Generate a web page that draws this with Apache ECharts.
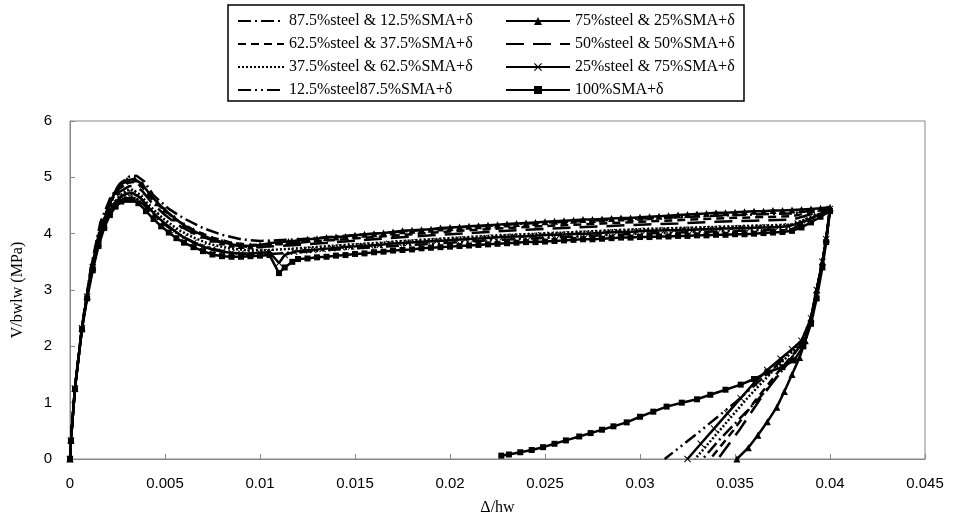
<!DOCTYPE html>
<html>
<head>
<meta charset="utf-8">
<script src="https://cdn.jsdelivr.net/npm/echarts@6/dist/echarts.min.js"></script>
<style>
html,body{margin:0;padding:0;background:#fff;}
#chart{width:955px;height:521px;}
</style>
</head>
<body>
<div id="chart"></div>
<script>
// ---- tick settings ----
const xTicks = { min: 0, max: 0.045, interval: 0.005 };
const yTicks = { min: 0, max: 6, interval: 1 };

// ---- series names ----
const names = [
  '87.5%steel & 12.5%SMA+δ',
  '75%steel & 25%SMA+δ',
  '62.5%steel & 37.5%SMA+δ',
  '50%steel & 50%SMA+δ',
  '37.5%steel & 62.5%SMA+δ',
  '25%steel & 75%SMA+δ',
  '12.5%steel87.5%SMA+δ',
  '100%SMA+δ'
];

// ---- data: [Δ/hw, V/bwlw] ----
const s875 = [[0,0],[0.00005,0.35],[0.00026,1.27],[0.00063,2.35],[0.0011,3.4],[0.0016,4.2],[0.0021,4.62],[0.0026,4.88],[0.0031,5.01],[0.0035,5.03],[0.0039,4.93],[0.0044,4.68],[0.0052,4.44],[0.006,4.27],[0.007,4.1],[0.008,3.98],[0.009,3.9],[0.01,3.87],[0.012,3.9],[0.014,3.95],[0.016,4.0],[0.018,4.05],[0.02,4.1],[0.022,4.14],[0.024,4.18],[0.026,4.21],[0.028,4.24],[0.03,4.27],[0.032,4.29],[0.034,4.32],[0.036,4.34],[0.038,4.36],[0.04,4.46],[0.0398,3.9],[0.0396,3.5],[0.0393,3.0],[0.039,2.5],[0.0386,2.1],[0.0379,1.75],[0.0372,1.45],[0.0362,1.05],[0.0352,0.7],[0.0342,0.35],[0.0333,0]];

const s75 = [[0,0],[0.00005,0.34],[0.00026,1.26],[0.00063,2.33],[0.0009,2.9],[0.0012,3.45],[0.0015,3.9],[0.0018,4.25],[0.0021,4.55],[0.0024,4.75],[0.0027,4.88],[0.003,4.95],[0.0034,4.97],[0.0038,4.88],[0.0042,4.7],[0.0046,4.55],[0.005,4.42],[0.0055,4.28],[0.006,4.15],[0.0065,4.05],[0.007,3.97],[0.0075,3.9],[0.008,3.85],[0.0085,3.81],[0.009,3.79],[0.0095,3.78],[0.01,3.8],[0.0105,3.83],[0.011,3.85],[0.0115,3.86],[0.012,3.88],[0.0125,3.9],[0.013,3.91],[0.0135,3.93],[0.014,3.94],[0.0145,3.95],[0.015,3.97],[0.0155,3.99],[0.016,4.0],[0.0165,4.01],[0.017,4.03],[0.0175,4.05],[0.018,4.06],[0.0185,4.07],[0.019,4.08],[0.0195,4.1],[0.02,4.11],[0.0205,4.12],[0.021,4.13],[0.0215,4.14],[0.022,4.15],[0.0225,4.16],[0.023,4.17],[0.0235,4.18],[0.024,4.19],[0.0245,4.2],[0.025,4.21],[0.0255,4.22],[0.026,4.23],[0.0265,4.24],[0.027,4.25],[0.0275,4.25],[0.028,4.26],[0.0285,4.27],[0.029,4.28],[0.0295,4.28],[0.03,4.29],[0.0305,4.3],[0.031,4.31],[0.0315,4.32],[0.032,4.33],[0.0325,4.34],[0.033,4.35],[0.0335,4.36],[0.034,4.37],[0.0345,4.37],[0.035,4.38],[0.0355,4.39],[0.036,4.4],[0.0365,4.4],[0.037,4.41],[0.0375,4.41],[0.038,4.42],[0.0385,4.43],[0.039,4.44],[0.0395,4.45],[0.04,4.47],[0.0398,3.92],[0.0396,3.5],[0.0393,3.0],[0.039,2.5],[0.0387,2.1],[0.0384,1.8],[0.038,1.5],[0.0376,1.2],[0.0372,0.92],[0.0367,0.66],[0.0362,0.42],[0.0357,0.2],[0.0351,0]];

const s625 = [[0,0],[0.00005,0.34],[0.00026,1.26],[0.00063,2.34],[0.0011,3.38],[0.0016,4.12],[0.0021,4.55],[0.0026,4.8],[0.0031,4.91],[0.0034,4.92],[0.0038,4.83],[0.0043,4.62],[0.005,4.4],[0.0058,4.2],[0.0066,4.05],[0.0075,3.93],[0.0085,3.84],[0.0095,3.8],[0.0105,3.81],[0.012,3.84],[0.014,3.89],[0.016,3.94],[0.018,3.99],[0.02,4.04],[0.022,4.08],[0.024,4.12],[0.026,4.15],[0.028,4.18],[0.03,4.21],[0.032,4.24],[0.034,4.27],[0.036,4.29],[0.038,4.31],[0.04,4.45],[0.0398,3.9],[0.0396,3.5],[0.0393,3.0],[0.039,2.5],[0.0387,2.1],[0.0374,1.6],[0.0361,1.05],[0.0349,0.5],[0.0337,0]];

const s50 = [[0,0],[0.00005,0.34],[0.00026,1.26],[0.00063,2.33],[0.0011,3.36],[0.0016,4.08],[0.0021,4.5],[0.0026,4.74],[0.0031,4.84],[0.0034,4.85],[0.0038,4.76],[0.0043,4.55],[0.005,4.33],[0.0058,4.13],[0.0066,3.99],[0.0075,3.88],[0.0085,3.8],[0.0095,3.76],[0.0105,3.77],[0.012,3.8],[0.014,3.85],[0.016,3.9],[0.018,3.95],[0.02,3.99],[0.022,4.03],[0.024,4.07],[0.026,4.1],[0.028,4.13],[0.03,4.16],[0.032,4.18],[0.034,4.21],[0.036,4.23],[0.038,4.25],[0.04,4.44],[0.0398,3.9],[0.0396,3.5],[0.0393,3.0],[0.039,2.5],[0.0387,2.1],[0.0375,1.6],[0.0363,1.05],[0.0352,0.5],[0.0341,0]];

const s375 = [[0,0],[0.00005,0.33],[0.00026,1.25],[0.00063,2.33],[0.0011,3.34],[0.0016,4.03],[0.0021,4.44],[0.0026,4.67],[0.003,4.77],[0.0033,4.78],[0.0037,4.69],[0.0042,4.49],[0.0049,4.27],[0.0057,4.07],[0.0065,3.93],[0.0074,3.81],[0.0084,3.74],[0.0094,3.7],[0.0105,3.71],[0.012,3.74],[0.014,3.79],[0.016,3.83],[0.018,3.88],[0.02,3.92],[0.022,3.96],[0.024,3.99],[0.026,4.02],[0.028,4.05],[0.03,4.08],[0.032,4.1],[0.034,4.12],[0.036,4.14],[0.038,4.16],[0.04,4.43],[0.0398,3.9],[0.0396,3.5],[0.0393,3.0],[0.039,2.5],[0.0386,2.1],[0.0371,1.6],[0.0357,1.1],[0.0343,0.55],[0.0329,0]];

const s25 = [[0,0],[0.00005,0.33],[0.00026,1.25],[0.00063,2.32],[0.0009,2.88],[0.0012,3.4],[0.0015,3.83],[0.0018,4.15],[0.0021,4.4],[0.0024,4.56],[0.0027,4.66],[0.003,4.71],[0.0033,4.72],[0.0037,4.64],[0.0041,4.48],[0.0045,4.33],[0.005,4.18],[0.0055,4.05],[0.006,3.93],[0.0065,3.84],[0.007,3.77],[0.0075,3.72],[0.008,3.68],[0.0085,3.66],[0.009,3.65],[0.0095,3.65],[0.01,3.66],[0.0105,3.67],[0.011,3.48],[0.0113,3.62],[0.0118,3.68],[0.0123,3.7],[0.0128,3.71],[0.0133,3.73],[0.0138,3.74],[0.0143,3.76],[0.0148,3.77],[0.0153,3.78],[0.0158,3.79],[0.0163,3.8],[0.0168,3.82],[0.0173,3.83],[0.0178,3.84],[0.0183,3.85],[0.0188,3.86],[0.0193,3.87],[0.0198,3.88],[0.0203,3.89],[0.0208,3.9],[0.0213,3.91],[0.0218,3.92],[0.0223,3.93],[0.0228,3.94],[0.0233,3.95],[0.0238,3.95],[0.0243,3.96],[0.0248,3.97],[0.0253,3.98],[0.0258,3.98],[0.0263,3.99],[0.0268,4.0],[0.0273,4.0],[0.0278,4.01],[0.0283,4.02],[0.0288,4.03],[0.0293,4.03],[0.0298,4.04],[0.0303,4.05],[0.0308,4.05],[0.0313,4.06],[0.0318,4.06],[0.0323,4.07],[0.0328,4.07],[0.0333,4.08],[0.0338,4.08],[0.0343,4.09],[0.0348,4.09],[0.0353,4.1],[0.0358,4.1],[0.0363,4.11],[0.0368,4.11],[0.0373,4.12],[0.0378,4.13],[0.0383,4.18],[0.0388,4.24],[0.0393,4.32],[0.0398,4.4],[0.04,4.44],[0.0398,3.9],[0.0396,3.5],[0.0393,3.0],[0.039,2.5],[0.0385,2.1],[0.038,1.95],[0.0374,1.78],[0.0367,1.58],[0.036,1.35],[0.0353,1.08],[0.0346,0.81],[0.0339,0.54],[0.0332,0.27],[0.0325,0]];

const s125 = [[0,0],[0.00005,0.33],[0.00026,1.25],[0.00063,2.32],[0.0011,3.32],[0.0016,3.98],[0.0021,4.37],[0.0026,4.57],[0.003,4.65],[0.0033,4.66],[0.0037,4.58],[0.0042,4.39],[0.0049,4.18],[0.0057,3.99],[0.0065,3.85],[0.0074,3.74],[0.0084,3.66],[0.0094,3.63],[0.0105,3.64],[0.012,3.67],[0.014,3.72],[0.016,3.76],[0.018,3.8],[0.02,3.84],[0.022,3.88],[0.024,3.91],[0.026,3.94],[0.028,3.97],[0.03,4.0],[0.032,4.02],[0.034,4.04],[0.036,4.06],[0.038,4.08],[0.04,4.42],[0.0398,3.9],[0.0396,3.5],[0.0393,3.0],[0.039,2.5],[0.0385,2.1],[0.037,1.6],[0.035,1.0],[0.033,0.45],[0.0313,0]];

const s100 = [[0,0],[0.00005,0.32],[0.00026,1.24],[0.00063,2.3],[0.0009,2.85],[0.0012,3.35],[0.0015,3.78],[0.0018,4.1],[0.0021,4.33],[0.0024,4.48],[0.0027,4.57],[0.003,4.6],[0.0033,4.6],[0.0036,4.54],[0.004,4.4],[0.0044,4.26],[0.0048,4.13],[0.0052,4.02],[0.0056,3.92],[0.006,3.84],[0.0065,3.76],[0.007,3.69],[0.0075,3.63],[0.008,3.6],[0.0085,3.59],[0.009,3.59],[0.0095,3.6],[0.01,3.61],[0.0105,3.62],[0.011,3.3],[0.0113,3.4],[0.0117,3.5],[0.012,3.55],[0.0125,3.56],[0.013,3.58],[0.0135,3.59],[0.014,3.61],[0.0145,3.62],[0.015,3.64],[0.0155,3.65],[0.016,3.67],[0.0165,3.68],[0.017,3.7],[0.0175,3.71],[0.018,3.72],[0.0185,3.74],[0.019,3.75],[0.0195,3.76],[0.02,3.77],[0.0205,3.78],[0.021,3.79],[0.0215,3.8],[0.022,3.81],[0.0225,3.82],[0.023,3.83],[0.0235,3.84],[0.024,3.85],[0.0245,3.85],[0.025,3.86],[0.0255,3.87],[0.026,3.88],[0.0265,3.89],[0.027,3.9],[0.0275,3.9],[0.028,3.91],[0.0285,3.92],[0.029,3.93],[0.0295,3.93],[0.03,3.94],[0.0305,3.94],[0.031,3.95],[0.0315,3.95],[0.032,3.96],[0.0325,3.96],[0.033,3.97],[0.0335,3.97],[0.034,3.98],[0.0345,3.98],[0.035,3.99],[0.0355,3.99],[0.036,4.0],[0.0365,4.01],[0.037,4.02],[0.0375,4.03],[0.038,4.05],[0.0385,4.11],[0.039,4.2],[0.0395,4.3],[0.04,4.4],[0.0398,3.85],[0.0396,3.4],[0.0393,2.85],[0.039,2.4],[0.0386,2.0],[0.0381,1.75],[0.0375,1.63],[0.0367,1.54],[0.036,1.42],[0.0353,1.32],[0.0345,1.23],[0.0337,1.14],[0.033,1.06],[0.0322,1.0],[0.0314,0.93],[0.0307,0.84],[0.03,0.75],[0.0293,0.65],[0.0286,0.58],[0.028,0.52],[0.0274,0.46],[0.0268,0.4],[0.0261,0.33],[0.0255,0.27],[0.0249,0.21],[0.0243,0.16],[0.0237,0.12],[0.0231,0.08],[0.0227,0.06]];

const seriesData = [s875, s75, s625, s50, s375, s25, s125, s100];

// ---- styles ----
const crossPath = 'path://M0,1L1,0L5,4L9,0L10,1L6,5L10,9L9,10L5,6L1,10L0,9L4,5Z';
const styles = [
  { type: [13,4,2,4], symbol: 'none' },
  { type: 'solid', symbol: 'triangle', size: 7 },
  { type: [8,5], symbol: 'none' },
  { type: [18,9], symbol: 'none' },
  { type: [2,2], symbol: 'none' },
  { type: 'solid', symbol: crossPath, size: 7 },
  { type: [13,4,2,4,2,4], symbol: 'none' },
  { type: 'solid', symbol: 'rect', size: 6 }
];

const chart = echarts.init(document.getElementById('chart'), null, { renderer: 'canvas' });

const series = names.map((n, i) => ({
  name: n,
  type: 'line',
  data: seriesData[i],
  symbol: styles[i].symbol,
  symbolSize: styles[i].size || 0,
  showSymbol: styles[i].symbol !== 'none',
  smooth: false,
  lineStyle: { color: '#000', width: 2.5, type: styles[i].type },
  itemStyle: { color: '#000', borderWidth: 0 },
  emphasis: { disabled: true },
  z: 2 + i
}));

const legendItem = (i) => styles[i].symbol === 'none'
  ? { name: names[i], itemStyle: { opacity: 0 } }
  : { name: names[i] };

const legendText = { fontFamily: 'Liberation Serif', fontSize: 16, color: '#000' };

chart.setOption({
  animation: false,
  backgroundColor: '#fff',
  grid: { left: 70, right: 30, top: 121, bottom: 59, show: true, borderColor: '#868686', borderWidth: 1 },
  legend: [
    { orient: 'vertical', left: 232, top: 8, itemWidth: 46, itemHeight: 10, itemGap: 7,
      data: [legendItem(0), legendItem(2), legendItem(4), legendItem(6)], textStyle: legendText, selectedMode: false },
    { orient: 'vertical', left: 500, top: 8, itemWidth: 64, itemHeight: 10, itemGap: 7,
      data: [legendItem(1), legendItem(3), legendItem(5), legendItem(7)], textStyle: legendText, selectedMode: false }
  ],
  graphic: [{
    type: 'rect', shape: { x: 228, y: 5, width: 516, height: 96 },
    style: { fill: 'none', stroke: '#000', lineWidth: 1.5 }, silent: true
  }],
  xAxis: {
    type: 'value', min: xTicks.min, max: xTicks.max, interval: xTicks.interval,
    name: 'Δ/hw', nameLocation: 'middle', nameGap: 41,
    nameTextStyle: { fontFamily: 'Liberation Serif', fontSize: 16, color: '#000' },
    axisLine: { show: true, lineStyle: { color: '#868686', width: 1 } },
    axisTick: { show: true, inside: true, length: 5, lineStyle: { color: '#868686' } },
    axisLabel: { fontFamily: 'Liberation Sans', fontSize: 15, color: '#000', margin: 17 },
    splitLine: { show: false }
  },
  yAxis: {
    type: 'value', min: yTicks.min, max: yTicks.max, interval: yTicks.interval,
    name: 'V/bwlw (MPa)', nameLocation: 'middle', nameGap: 44,
    nameTextStyle: { fontFamily: 'Liberation Serif', fontSize: 16, color: '#000' },
    axisLine: { show: true, lineStyle: { color: '#868686', width: 1 } },
    axisTick: { show: true, inside: true, length: 5, lineStyle: { color: '#868686' } },
    axisLabel: { fontFamily: 'Liberation Sans', fontSize: 15, color: '#000', margin: 18 },
    splitLine: { show: false }
  },
  series: series
});
</script>
</body>
</html>
